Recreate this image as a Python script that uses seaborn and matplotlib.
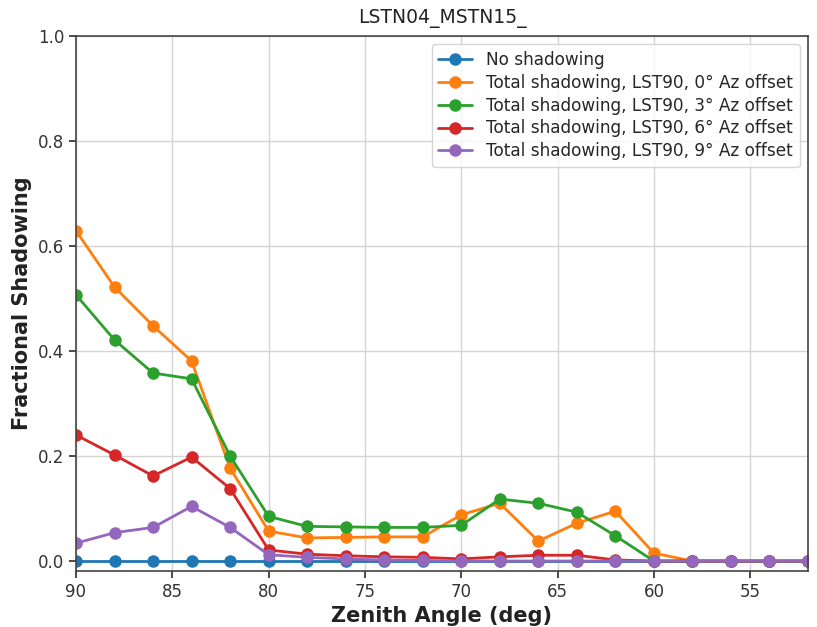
import numpy as np
import pandas as pd
import matplotlib
matplotlib.use("Agg")
import matplotlib.pyplot as plt
import seaborn as sns

zenith = [90, 88, 86, 84, 82, 80, 78, 76, 74, 72, 70, 68, 66, 64, 62, 60, 58, 56, 54, 52]
no_shadow = [0.0] * 20
az0 = [0.629, 0.522, 0.448, 0.381, 0.177, 0.057, 0.044, 0.045, 0.046, 0.046,
       0.088, 0.110, 0.038, 0.072, 0.095, 0.015, 0.0, 0.0, 0.0, 0.0]
az3 = [0.507, 0.421, 0.358, 0.347, 0.200, 0.085, 0.066, 0.065, 0.064, 0.064,
       0.068, 0.118, 0.110, 0.093, 0.048, 0.0, 0.0, 0.0, 0.0, 0.0]
az6 = [0.240, 0.202, 0.162, 0.198, 0.138, 0.021, 0.013, 0.010, 0.008, 0.007,
       0.004, 0.008, 0.011, 0.011, 0.002, 0.0, 0.0, 0.0, 0.0, 0.0]
az9 = [0.034, 0.054, 0.064, 0.104, 0.064, 0.012, 0.007, 0.004, 0.002, 0.001,
       0.0, 0.0, 0.0, 0.0, 0.0, 0.0, 0.0, 0.0, 0.0, 0.0]
labels = ["No shadowing",
          "Total shadowing, LST90, 0° Az offset",
          "Total shadowing, LST90, 3° Az offset",
          "Total shadowing, LST90, 6° Az offset",
          "Total shadowing, LST90, 9° Az offset"]
series = [no_shadow, az0, az3, az6, az9]

rows = []
for lab, vals in zip(labels, series):
    for z, v in zip(zenith, vals):
        rows.append({"Zenith": z, "Shadow": v, "Series": lab})
df = pd.DataFrame(rows)

sns.set_theme(style="whitegrid", rc={
    "axes.edgecolor": "#444444",
    "axes.linewidth": 1.2,
    "xtick.bottom": True, "ytick.left": True,
    "xtick.color": "#333333", "ytick.color": "#333333",
    "xtick.major.size": 5, "ytick.major.size": 5,
    "grid.color": "#d4d4d4",
})
plt.rcParams['font.family'] = ['DejaVu Sans']

fig = plt.figure(figsize=(8.17, 6.27), dpi=100)
ax = fig.add_axes([76/817, 1 - 571/627, (808-76)/817, (571-36)/627])
palette = ["#1f77b4", "#ff7f0e", "#2ca02c", "#d62728", "#9467bd"]
sns.lineplot(data=df, x="Zenith", y="Shadow", hue="Series", hue_order=labels,
             palette=palette, marker="o", markersize=9, markeredgewidth=0,
             linewidth=2, ax=ax)
ax.set_xlim(90, 52)
ax.set_ylim(-0.019, 1.0)
ax.set_yticks([0.0, 0.2, 0.4, 0.6, 0.8, 1.0])
ax.set_xticks([90, 85, 80, 75, 70, 65, 60, 55])
ax.tick_params(labelsize=12, colors="#333333")
ax.set_xlabel("Zenith Angle (deg)", fontsize=15, fontweight="bold", color="#222222")
ax.set_ylabel("Fractional Shadowing", fontsize=15, fontweight="bold", color="#222222")
ax.set_title("LSTN04_MSTN15_", fontsize=13.5, color="#222222", pad=9)
leg = ax.legend(loc="upper right", fontsize=12.2, frameon=True, labelspacing=0.28,
                borderaxespad=0.5)
leg.get_frame().set_edgecolor("#cccccc")
fig.savefig("out.png", dpi=100)
